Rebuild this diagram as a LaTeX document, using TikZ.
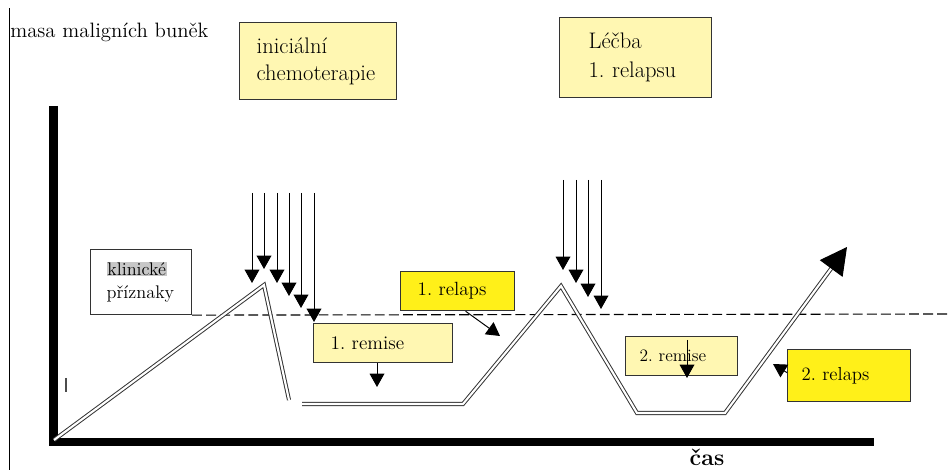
\documentclass[tikz,border=0pt]{standalone}
\usepackage{fontspec}
\usetikzlibrary{positioning, arrows.meta}
\definecolor{hellgelb}{RGB}{255,247,178}
\definecolor{gelb}{RGB}{255,240,25}
\tikzset{
    kasten/.style={
        draw=black!80,       % dunkle Kontur
        line width=0.9pt,    % etwas kraeftiger als die Pfeile
        anchor=north west,   % Platzierung ueber die linke obere Ecke
        align=left,
        inner ysep=0pt
    },
    kurve/.style={
        draw=black!80,       % graue Doppellinie
        double=white,
        double distance=1.5pt,
        line width=0.7pt
    },
    pfeil/.style={
        -{Triangle[width=10.5pt,length=9.5pt]},
        line width=0.7pt
    }
}

\begin{document}
\frenchspacing
\begin{tikzpicture}

    % Feste Groesse des Bildes (950 x 470 Pixel, 1 Pixel = 0.025cm)
    \useasboundingbox (0,0) rectangle (23.75,11.75);

    % Duenne Linie am linken Rand und Beschriftung der y-Achse
    \draw[line width=0.6pt] (0.225,0) -- (0.225,11.55);
    \node[anchor=base west, inner sep=0pt, font=\fontsize{14.8}{17}\selectfont] (masa) at (0.25,10.8) {masa maligních buněk};

    % Achsen
    \coordinate (yoben) at (1.3375,9.1);
    \coordinate (ecke) at (1.3375,0.7);
    \coordinate (xrechts) at (21.85,0.7);
    \draw[line width=6pt] (yoben) -- (ecke) -- (xrechts);
    \node[anchor=base, inner sep=0pt, font=\bfseries\fontsize{16.5}{20}\selectfont] (zeit) at (17.675,0.1) {čas};
    \draw[line width=0.9pt, black!70] (1.65,2.3) -- (1.65,1.95);

    % Kaesten
    \node[kasten, fill=hellgelb, minimum height=1.925cm, text width=3.075cm, inner xsep=0.425cm,
          font=\fontsize{16}{19}\selectfont] (chemo) at (5.975,11.2) {iniciální\\chemoterapie};
    \node[kasten, fill=hellgelb, minimum height=2cm, text width=2.35cm, inner xsep=0.725cm,
          font=\fontsize{16}{20.5}\selectfont] (lecba) at (13.975,11.325) {Léčba\\1. relapsu};
    \node[kasten, fill=white, line width=0.8pt, minimum height=1.625cm, text width=1.725cm, inner xsep=0.4cm,
          font=\fontsize{13}{16.4}\selectfont] (klin) at (2.25,5.525) {{\fboxsep=0.6pt\colorbox{black!22}{klinické}}\\příznaky};

    % Schwelle der klinischen Symptome
    \coordinate (rechts) at (23.75,3.9);
    \draw[line width=0.8pt, dash pattern=on 7pt off 3pt] (klin.south east) -- (rechts);

    % Verlauf der Zellmasse als Doppellinie
    \coordinate (ursprung) at (1.35,0.75);
    \coordinate (gipfel1) at (6.6,4.625);
    \coordinate (ende1) at (7.225,1.75);
    \coordinate (tal1a) at (7.55,1.65);
    \coordinate (tal1b) at (11.575,1.65);
    \coordinate (gipfel2) at (14.025,4.6);
    \coordinate (tal2a) at (15.925,1.425);
    \coordinate (tal2b) at (18.125,1.425);
    \coordinate (spitze) at (21.175,5.575);
    \draw[kurve] (ursprung) -- (gipfel1) -- (ende1);
    \draw[kurve, -{Triangle[width=20pt,length=19pt,color=black]}] (tal1a) -- (tal1b) -- (gipfel2) -- (tal2a) -- (tal2b) -- (spitze);

    % Therapiezyklen als senkrechte Pfeile
    \foreach \x/\s [count=\i] in {6.3/4.675, 6.6/5.025, 6.925/4.675, 7.225/4.35, 7.525/4.05, 7.85/3.7} {
        \coordinate (ch\i) at (\x,6.925);
        \coordinate (chs\i) at (\x,\s);
        \draw[pfeil] (ch\i) -- (chs\i);
    }
    \foreach \x/\s [count=\i] in {14.075/5.0, 14.4/4.675, 14.7/4.325, 15.025/4.025} {
        \coordinate (le\i) at (\x,7.25);
        \coordinate (les\i) at (\x,\s);
        \draw[pfeil] (le\i) -- (les\i);
    }

    % Remissionen und Relapse
    \node[kasten, fill=gelb, minimum height=0.975cm, text width=2cm, inner xsep=0.425cm,
          font=\fontsize{13.6}{16}\selectfont] (relaps1) at (10,4.975) {1. relaps};
    \node[kasten, fill=hellgelb, minimum height=0.975cm, text width=2.625cm, inner xsep=0.425cm,
          font=\fontsize{13.7}{16}\selectfont] (remise1) at (7.825,3.675) {1. remise};
    \node[kasten, fill=hellgelb, minimum height=0.975cm, text width=2.1cm, inner xsep=0.35cm,
          font=\fontsize{12.4}{15}\selectfont] (remise2) at (15.625,3.35) {2. remise};
    \node[kasten, fill=gelb, minimum height=1.3cm, text width=2.375cm, inner xsep=0.35cm,
          font=\fontsize{13.4}{16}\selectfont] (relaps2) at (19.675,3.025) {2. relaps};

    \coordinate (r1spitze) at (12.5,3.35);
    \draw[pfeil] ([xshift=0.2cm]relaps1.south) -- (r1spitze);
    \coordinate (m1spitze) at (9.425,2.075);
    \draw[pfeil] (remise1.south -| m1spitze) -- (m1spitze);
    \coordinate (m2oben) at (17.175,3.25);
    \coordinate (m2spitze) at (17.175,2.3);
    \draw[pfeil] (m2oben) -- (m2spitze);
    \coordinate (r2spitze) at (19.325,2.65);
    \draw[pfeil] ([yshift=0.075cm]relaps2.west) -- (r2spitze);

\end{tikzpicture}
\end{document}
